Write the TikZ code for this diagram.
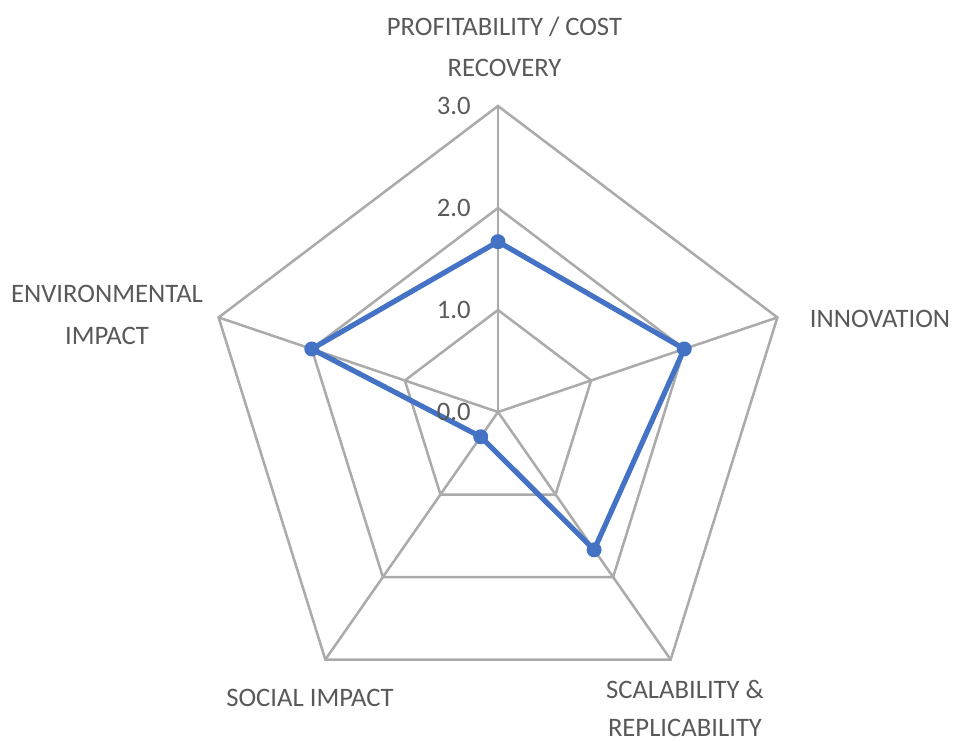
\documentclass[tikz,border=0pt]{standalone}
\usepackage{fontspec}
\setmainfont{Carlito}
\usetikzlibrary{calc}
\definecolor{gridgray}{RGB}{171,171,171}
\definecolor{textgray}{RGB}{89,89,89}
\definecolor{serieblue}{RGB}{68,114,196}

\begin{document}
\begin{tikzpicture}[x=0.75pt,y=0.75pt,
  every node/.style={font=\fontsize{20}{31}\selectfont,text=textgray,inner sep=0},
  gridline/.style={gridgray,line width=1.9pt,line join=miter},
  serie/.style={serieblue,line width=3.9pt,line join=round}]
\useasboundingbox (-498,-330) rectangle (455,412);
\begin{scope}[xscale=0.96]
% rings and spokes
\foreach \r in {1,2,3}  {
 \draw[gridline] (90:\r*102)--(18:\r*102)--(-54:\r*102)--(-126:\r*102)--(162:\r*102)--cycle;
}
\foreach \a in {90,18,-54,-126,162}  {
 \draw[gridline] (0,0)--(\a:306);
}
% series
\foreach \v [count=\i] in {1.67,2.0,1.67,0.30,2.0}  {
 \coordinate (p\i) at ({90-72*(\i-1)}:\v*102);
}
\draw[serie] (p1)--(p2)--(p3)--(p4)--(p5)--cycle;
\foreach \i in {1,...,5}  {
 \fill[serieblue] (p\i) ellipse ({7.5/0.96} and 7.5);
}
\end{scope}
% scale
\foreach \v/\t in {0/0.0,1/1.0,2/2.0,3/3.0}  {
 \node[anchor=east] (tick\v) at (-27,\v*102) {\t};
}
% categories
\node[align=center] (profit) at (6.5,365) {PROFITABILITY / COST\\RECOVERY};
\node (innov) at (382,93) {INNOVATION};
\node[align=center,font=\fontsize{20}{28.5}\selectfont] (scal) at (187,-296) {SCALABILITY \&\\REPLICABILITY};
\node (social) at (-188,-286) {SOCIAL IMPACT};
\node[align=center] (envir) at (-391,97) {ENVIRONMENTAL\\IMPACT};
\end{tikzpicture}
\end{document}
